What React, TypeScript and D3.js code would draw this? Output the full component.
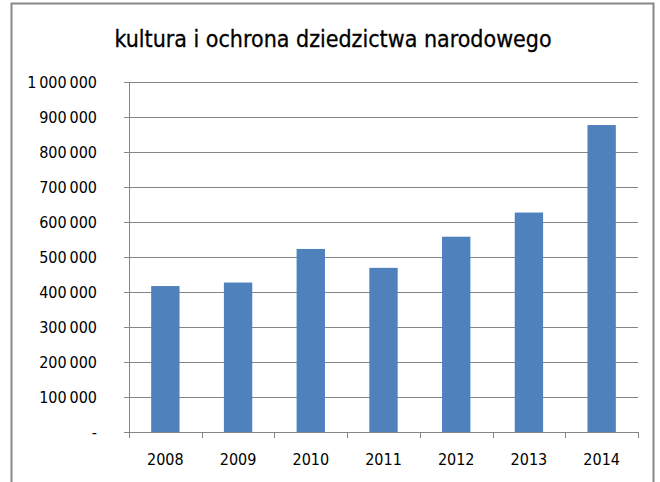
import React, { useEffect, useRef } from "react";
import * as d3 from "d3";

// chart data
const years = ["2008", "2009", "2010", "2011", "2012", "2013", "2014"];
const values = [417000, 427000, 523000, 469000, 558000, 627000, 877000];
const yTicks = [0, 100000, 200000, 300000, 400000, 500000, 600000, 700000, 800000, 900000, 1000000];
const title = "kultura i ochrona dziedzictwa narodowego";

const FONT = "'Liberation Sans Narrow', 'DejaVu Sans Condensed', sans-serif";

const App = () => {
  const svgRef = useRef<SVGSVGElement | null>(null);

  useEffect(() => {
    const width = 660;
    const height = 482;
    const marginLeft = 129;
    const marginRight = 22;
    const marginTop = 82;
    const marginBottom = 50;

    const svg = d3.select(svgRef.current);
    svg.selectAll("*").remove();

    // outer chart frame
    svg
      .append("rect")
      .attr("x", 11.5)
      .attr("y", 3.5)
      .attr("width", 642)
      .attr("height", 500)
      .attr("fill", "white")
      .attr("stroke", "#888888")
      .attr("stroke-width", 2);

    // title
    svg
      .append("text")
      .attr("x", 333)
      .attr("y", 47)
      .attr("text-anchor", "middle")
      .attr("font-family", FONT)
      .attr("font-size", 23)
      .attr("fill", "#000")
      .attr("stroke", "#000")
      .attr("stroke-width", 0.3)
      .text(title);

    const x = d3
      .scaleBand()
      .domain(years)
      .range([marginLeft, width - marginRight])
      .padding(0);

    const y = d3
      .scaleLinear()
      .domain([0, 1000000])
      .range([height - marginBottom, marginTop]);

    const barW = x.bandwidth() * 0.39;

    // gridlines
    const yAxis = svg
      .append("g")
      .attr("transform", `translate(${marginLeft},0)`)
      .call(
        d3
          .axisRight(y)
          .tickValues(yTicks)
          .tickSize(width - marginRight - marginLeft)
          .tickFormat(() => "")
      )
      .call((g) => g.select(".domain").remove());
    yAxis
      .selectAll(".tick line")
      .attr("x1", -5)
      .attr("stroke", "#868686")
      .attr("stroke-width", 1);

    // y labels, space as thousands separator
    svg
      .append("g")
      .selectAll("text")
      .data(yTicks)
      .join("text")
      .attr("x", 97)
      .attr("y", (d) => y(d))
      .attr("dy", "0.35em")
      .attr("text-anchor", "end")
      .attr("font-family", FONT)
      .attr("font-size", 16)
      .attr("fill", "#000")
      .text((d) => (d === 0 ? "-" : d3.format(",")(d).replace(/,/g, "\u2009")));

    // bars
    svg
      .append("g")
      .selectAll("rect")
      .data(values)
      .join("rect")
      .attr("x", (d, i) => x(years[i])! + (x.bandwidth() - barW) / 2)
      .attr("y", (d) => y(d))
      .attr("width", barW)
      .attr("height", (d) => y(0) - y(d))
      .attr("fill", "#4F81BD");

    // y axis line
    svg
      .append("line")
      .attr("x1", marginLeft + 0.5)
      .attr("x2", marginLeft + 0.5)
      .attr("y1", y(1000000))
      .attr("y2", y(0))
      .attr("stroke", "#868686");

    // x axis, ticks at category boundaries
    const xAxis = svg
      .append("g")
      .attr("transform", `translate(0,${height - marginBottom})`);
    xAxis
      .append("line")
      .attr("x1", marginLeft)
      .attr("x2", width - marginRight)
      .attr("y1", 0.5)
      .attr("y2", 0.5)
      .attr("stroke", "#868686");
    const bounds = years.map((d) => x(d)!).concat([width - marginRight]);
    xAxis
      .selectAll("line.tk")
      .data(bounds)
      .join("line")
      .attr("class", "tk")
      .attr("x1", (d) => Math.round(d) + 0.5)
      .attr("x2", (d) => Math.round(d) + 0.5)
      .attr("y1", 0)
      .attr("y2", 6)
      .attr("stroke", "#868686");
    xAxis
      .selectAll("text")
      .data(years)
      .join("text")
      .attr("x", (d) => x(d)! + x.bandwidth() / 2)
      .attr("y", 33)
      .attr("text-anchor", "middle")
      .attr("font-family", FONT)
      .attr("font-size", 16)
      .attr("fill", "#000")
      .text((d) => d);
  }, []);

  return (
    <svg
      ref={svgRef}
      width={660}
      height={482}
      style={{ position: "absolute", left: 0, top: 0, background: "white" }}
    ></svg>
  );
};

export default App;
